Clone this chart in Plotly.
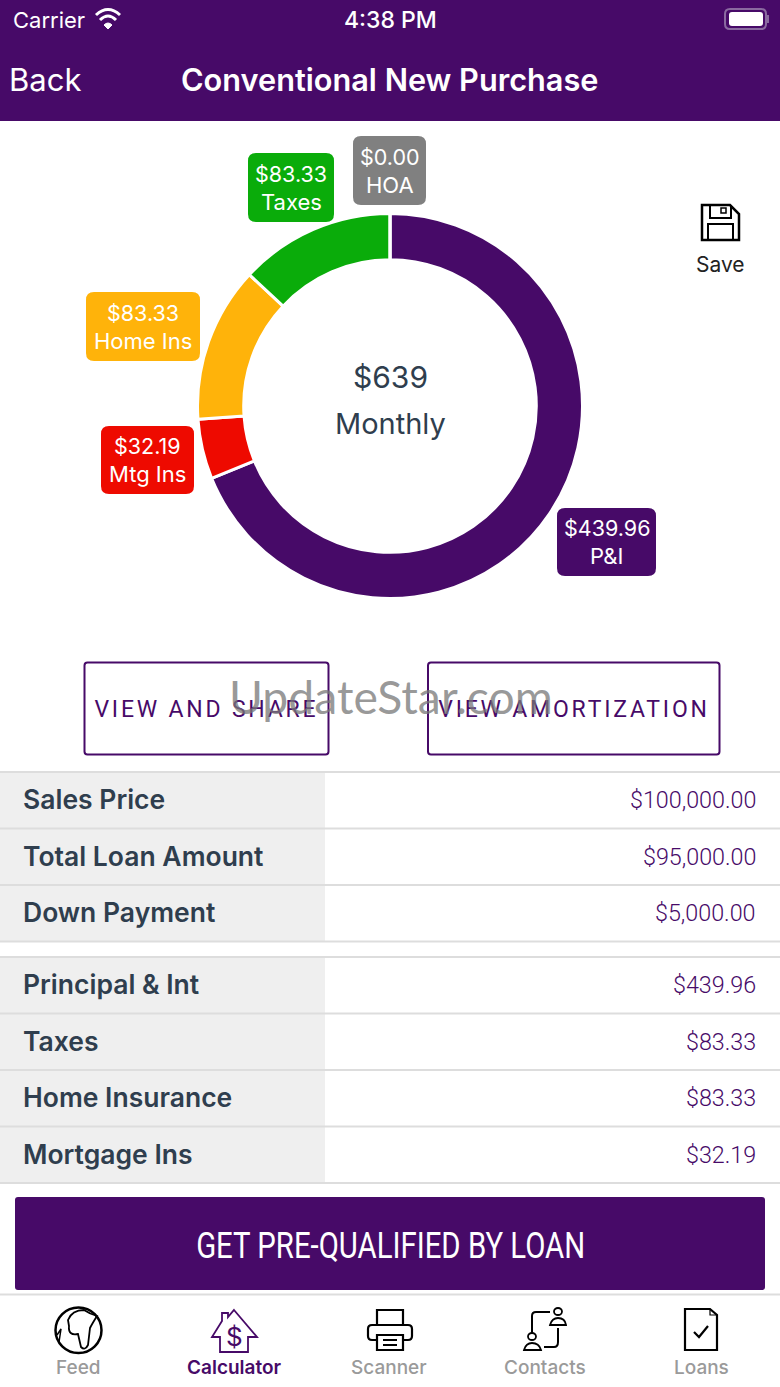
import plotly.graph_objects as go

# donut data, clockwise from 12 o'clock
slice_names = ["P&I", "Mtg Ins", "Home Ins", "Taxes", "HOA"]
slice_values = [439.96, 32.19, 83.33, 83.33, 0.00]
slice_colors = ["#470A68", "#EE0A00", "#FFB30A", "#0AAC0A", "#808080"]

center_total = "$639"
center_label = "Monthly"

# table rows
top_labels = ["Sales Price", "Total Loan Amount", "Down Payment"]
top_values = ["$100,000.00", "$95,000.00", "$5,000.00"]
bottom_labels = ["Principal & Int", "Taxes", "Home Insurance", "Mortgage Ins"]
bottom_values = ["$439.96", "$83.33", "$83.33", "$32.19"]

tab_labels = ["Feed", "Calculator", "Scanner", "Contacts", "Loans"]

PURPLE = "#470A68"
INK = "#2F3E4E"
LINE = "#DDDDDD"
SANS = "Inter"
THIN = "Roboto"

fig = go.Figure()

# invisible trace so the pixel axes exist for shapes and text
fig.add_trace(go.Scatter(x=[None], y=[None], mode="markers", showlegend=False, hoverinfo="skip"))

fig.add_trace(go.Pie(
    labels=slice_names, values=slice_values, hole=0.76, sort=False,
    direction="clockwise", rotation=0, textinfo="none", showlegend=False,
    marker=dict(colors=slice_colors, line=dict(color="white", width=3)),
    domain=dict(x=[197.5 / 780, 582.5 / 780], y=[1 - 598.5 / 1387, 1 - 213.5 / 1387]),
))

shapes = []
notes = []


def rect(x0, y0, x1, y1, fill=None, line=None, width=0):
    shapes.append(dict(type="rect", x0=x0, y0=y0, x1=x1, y1=y1, fillcolor=fill or "rgba(0,0,0,0)",
                       line=dict(color=line or "rgba(0,0,0,0)", width=width)))


def rounded(x0, y0, x1, y1, r, fill=None, line=None, width=0):
    p = (f"M{x0+r},{y0} L{x1-r},{y0} Q{x1},{y0} {x1},{y0+r} L{x1},{y1-r} Q{x1},{y1} {x1-r},{y1} "
         f"L{x0+r},{y1} Q{x0},{y1} {x0},{y1-r} L{x0},{y0+r} Q{x0},{y0} {x0+r},{y0} Z")
    shapes.append(dict(type="path", path=p, fillcolor=fill or "rgba(0,0,0,0)",
                       line=dict(color=line or "rgba(0,0,0,0)", width=width)))


def stroke(p, color="black", width=2, fill=None):
    shapes.append(dict(type="path", path=p, fillcolor=fill or "rgba(0,0,0,0)",
                       line=dict(color=color, width=width)))


def text(x, y, s, size, color, anchor="center", family=SANS, weight=400):
    notes.append(dict(x=x, y=y, text=s, showarrow=False, xanchor=anchor, yanchor="middle",
                      xref="x", yref="y", font=dict(size=size, color=color, family=family, weight=weight)))


# header
rect(0, 0, 780, 121, fill=PURPLE)
text(11, 20, "Carrier", 22, "white", "left")
text(390, 20, "4:38 PM", 23, "white", weight=500)
text(7, 79.5, "Back", 31, "white", "left")
text(390, 79.5, "Conventional New Purchase", 30.7, "white", weight=600)
# wifi
stroke("M96,15 Q108,4 120,15", "white", 3)
stroke("M100,20 Q108,12 116,20", "white", 3)
stroke("M104,25 Q108,21 112,25 L108,29 Z", "white", 1, fill="white")
# battery
rounded(725, 9, 766, 29, 5, line="#8A6AA0", width=2)
rounded(729, 12, 763, 26, 3, fill="white")
rect(767, 15, 769, 23, fill="#8A6AA0")

# value chips around the donut
chip_boxes = {
    "HOA": (353, 136, 426, 205),
    "Taxes": (248, 153, 334, 222),
    "Home Ins": (86, 292, 200, 361),
    "Mtg Ins": (101, 426, 194, 494),
    "P&I": (557, 508, 656, 576),
}
for name, value, color in zip(slice_names, slice_values, slice_colors):
    x0, y0, x1, y1 = chip_boxes[name]
    rounded(x0, y0, x1, y1, 8, fill=color)
    cx, cy = (x0 + x1) / 2, (y0 + y1) / 2
    text(cx, cy - 14, f"${value:.2f}", 21.5, "white")
    text(cx, cy + 14, name, 22, "white")

text(390, 377, center_total, 30, INK)
text(390, 423, center_label, 29, INK)

# save icon
stroke("M702,205 L730,205 L739,214 L739,240 L702,240 Z", "black", 2.5)
stroke("M710,205 L710,218 L731,218 L731,205", "black", 2)
stroke("M708,240 L708,224 L733,224 L733,240", "black", 2)
rect(721, 208, 726, 213, line="black", width=1.5)
text(720, 264, "Save", 21, "#222222")

# buttons
rounded(84.5, 662.5, 328.5, 754.5, 3, line=PURPLE, width=2)
rounded(428, 662.5, 719.5, 754.5, 3, line=PURPLE, width=2)
text(206, 709.5, "VIEW AND SHARE", 23, PURPLE, family=THIN)
text(574, 709.5, "VIEW AMORTIZATION", 23, PURPLE, family=THIN)
text(391, 696, "UpdateStar.com", 46.3, "rgba(120,120,120,0.75)", family="Lato", weight=400)


# table
def table(labels, values, top):
    pitch = 56.5
    rect(0, top, 325, top + pitch * len(labels), fill="#EFEFEF")
    shapes.append(dict(type="line", x0=0, x1=780, y0=top, y1=top, line=dict(color=LINE, width=2)))
    for i, (lab, val) in enumerate(zip(labels, values)):
        y = top + pitch * (i + 1)
        shapes.append(dict(type="line", x0=0, x1=780, y0=y, y1=y, line=dict(color=LINE, width=2)))
        text(21, y - pitch / 2 - 1, lab, 26.5, INK, "left", weight=600)
        text(757.5, y - pitch / 2, val, 23.3, PURPLE, "right", family=THIN, weight=300)


table(top_labels, top_values, 772)
table(bottom_labels, bottom_values, 957)

# call to action
rounded(15, 1197, 765, 1290, 3, fill=PURPLE)
text(390, 1246, "GET PRE-QUALIFIED BY LOAN", 36, "white", family=THIN)

# tab bar
shapes.append(dict(type="line", x0=0, x1=780, y0=1294.5, y1=1294.5, line=dict(color=LINE, width=2)))
for label, x in zip(tab_labels, [78, 234, 389, 545, 701]):
    active = label == "Calculator"
    text(x, 1367, label, 19, PURPLE if active else "#9A9A9A", weight=600 if active else 500)

# globe
shapes.append(dict(type="circle", x0=55.5, x1=101.5, y0=1307.5, y1=1353, line=dict(color="black", width=2.5)))
stroke("M68,1320 Q72,1310 84,1310 Q90,1314 97,1316 Q92,1324 90,1328 L88,1345 Q85,1351 81,1347 L78,1334 "
       "Q68,1336 69,1326 Z", "black", 1.8)
stroke("M57,1335 L61,1329 L59,1342", "black", 1.5)
# calculator house
stroke("M234,1310 L257,1337 L248,1337 L248,1352 L220,1352 L220,1337 L212,1337 L222,1321 L222,1313 "
       "L228,1313 L228,1317 Z", PURPLE, 1.8)
text(234, 1336, "$", 26, PURPLE)
# printer
stroke("M377,1326 L377,1310 L403,1310 L403,1326", "black", 2.2)
rounded(368, 1325, 412, 1340, 4, line="black", width=2.2)
rect(377, 1335, 403, 1350, fill="white", line="black", width=2.2)
stroke("M383,1340 L397,1340 M383,1345 L397,1345", "black", 2)
# contacts
stroke("M532,1333 L532,1316 Q532,1312 536,1312 L550,1312", "black", 2)
stroke("M558,1328 L558,1342 Q558,1347 554,1347 L544,1347", "black", 2)
shapes.append(dict(type="circle", x0=554, x1=562, y0=1308, y1=1315, line=dict(color="black", width=1.8)))
stroke("M550,1325 Q552,1318 558,1318 Q565,1318 566,1325 Z", "black", 1.8)
shapes.append(dict(type="circle", x0=528, x1=536, y0=1333, y1=1340, line=dict(color="black", width=1.8)))
stroke("M524,1350 Q526,1343 532,1343 Q539,1343 541,1350 Z", "black", 1.8)
# loans
stroke("M685,1309 L710,1309 L717,1315 L717,1350 L685,1350 Z", "black", 2.2)
stroke("M710,1309 L710,1315 L717,1315", "black", 1.2)
stroke("M694,1332 L699,1337 L708,1326", "black", 2.2)

fig.update_layout(
    width=780, height=1387, margin=dict(l=0, r=0, t=0, b=0, pad=0),
    paper_bgcolor="white", plot_bgcolor="rgba(0,0,0,0)", autosize=False,
    xaxis=dict(range=[0, 780], visible=False, domain=[0, 1], fixedrange=True),
    yaxis=dict(range=[1387, 0], visible=False, domain=[0, 1], fixedrange=True),
    shapes=shapes, annotations=notes,
)

# no page margin, tracked caps on the button labels, condensed call to action
post = """
document.body.style.margin = '0';
document.body.style.overflow = 'hidden';
document.querySelectorAll('.annotation-text').forEach(function (t) {
  var s = t.textContent;
  if (s.indexOf('VIEW') === 0) t.style.letterSpacing = '2.8px';
  if (s.indexOf('GET PRE') === 0) {
    t.setAttribute('textLength', '389');
    t.setAttribute('lengthAdjust', 'spacingAndGlyphs');
  }
});
"""
fig.write_html("out.html", post_script=post, config=dict(displayModeBar=False))
